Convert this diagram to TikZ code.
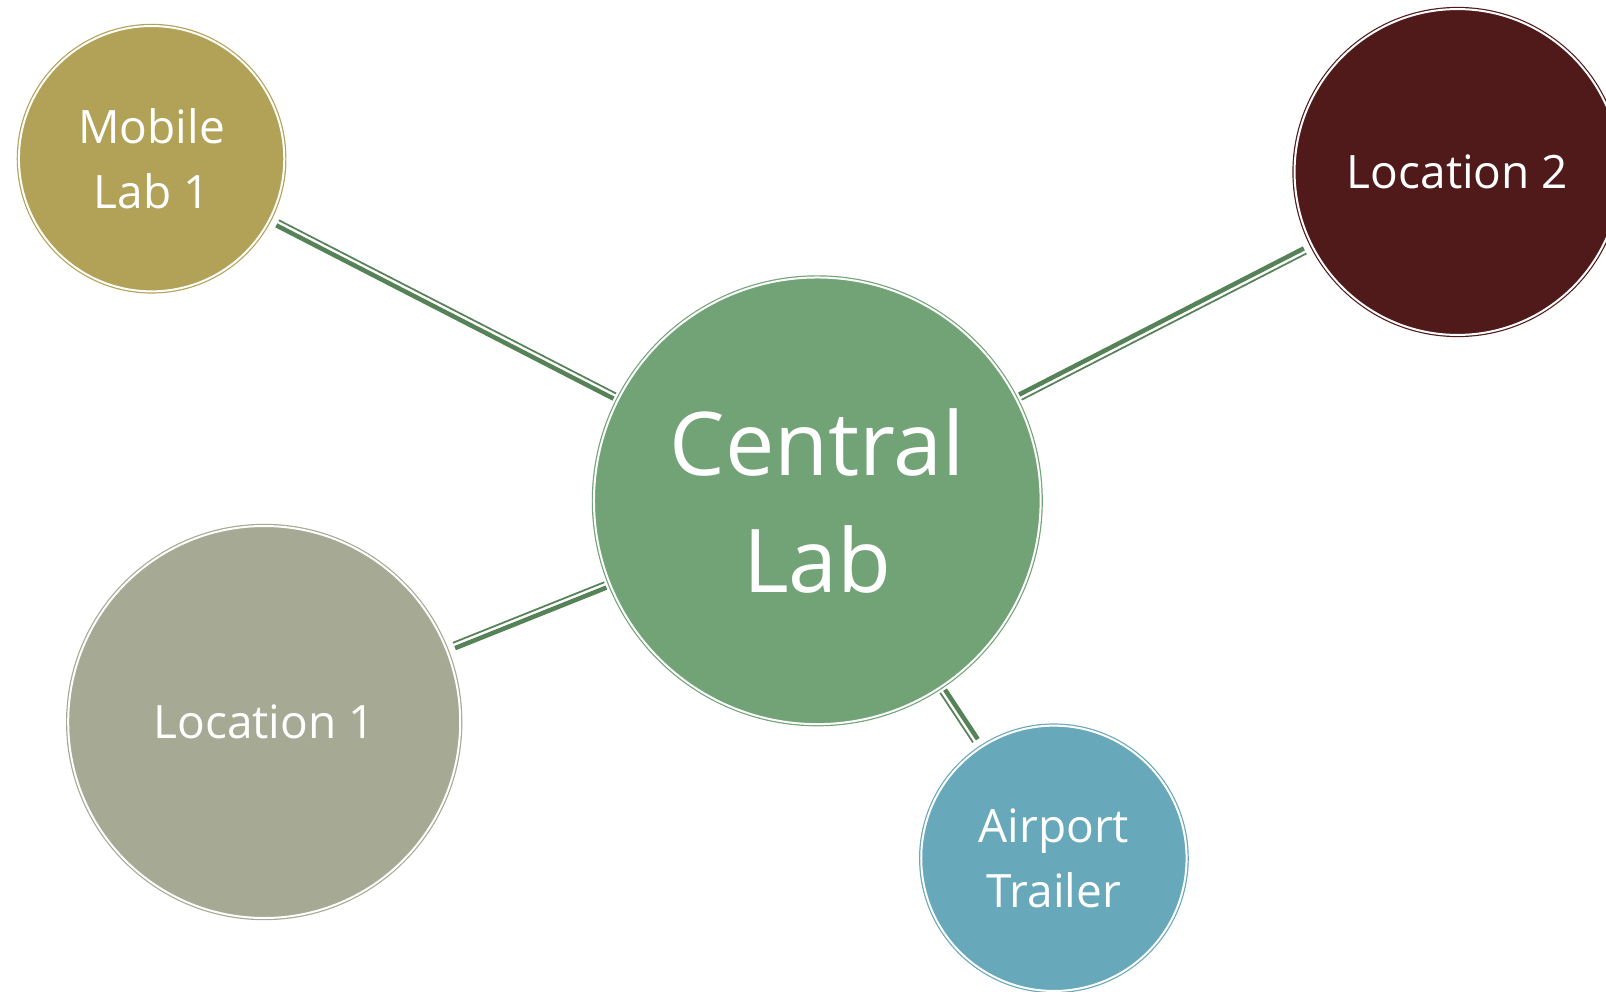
\documentclass[tikz,border=0pt]{standalone}
\usepackage{fontspec}
\setmainfont{Open Sans}
\usepackage{xcolor}
\usetikzlibrary{calc,backgrounds}

\definecolor{mobilecol}{RGB}{178,162,87}
\definecolor{loctwocol}{RGB}{80,26,26}
\definecolor{centralcol}{RGB}{114,163,118}
\definecolor{loconecol}{RGB}{166,169,147}
\definecolor{airportcol}{RGB}{103,168,186}
\definecolor{linkcol}{RGB}{86,130,88}

% spoke between two bubbles: thick band plus a thin band on its left
\newcommand{\spoke}[2]{%
  \path (#1) -- (#2) coordinate[pos=0] (s) coordinate[pos=1] (e);
  \draw[linkcol, line width=3.4pt] ($(s)!1.7pt!-90:(e)$) -- ($(e)!1.7pt!90:(s)$);
  \draw[linkcol, line width=1.3pt] ($(s)!2.6pt!90:(e)$) -- ($(e)!2.6pt!-90:(s)$);
}

\begin{document}
\begin{tikzpicture}[x=0.75pt, y=0.75pt,
  every node/.style={circle, inner sep=0pt, outer sep=6.5pt, text=white, align=center,
    line width=0.9pt, double=white, double distance=1.5pt,
    font=\fontsize{34.5}{49}\selectfont},
  bubble/.style={draw=#1, fill=#1}]
\useasboundingbox (0,0) rectangle (1606,-992);
% Bubbles
\node[bubble=mobilecol, minimum size=199pt] (mobile) at (151.6,-158.7) {Mobile\\Lab 1};
\node[bubble=loctwocol, minimum size=244.4pt] (loc2) at (1457.5,-172) {Location 2};
\node[bubble=centralcol, minimum size=335pt, outer sep=3.5pt,
  font=\fontsize{66}{88}\selectfont] (central) at (817.3,-500.8) {Central\\Lab};
\node[bubble=loconecol, minimum size=294pt] (loc1) at (264.2,-722) {Location 1};
\node[bubble=airportcol, minimum size=199pt] (airport) at (1053.9,-858.3) {Airport\\Trailer};
% Spokes
\spoke{mobile}{central}
\spoke{loc2}{central}
\spoke{loc1}{central}
\spoke{airport}{central}
\end{tikzpicture}
\end{document}
